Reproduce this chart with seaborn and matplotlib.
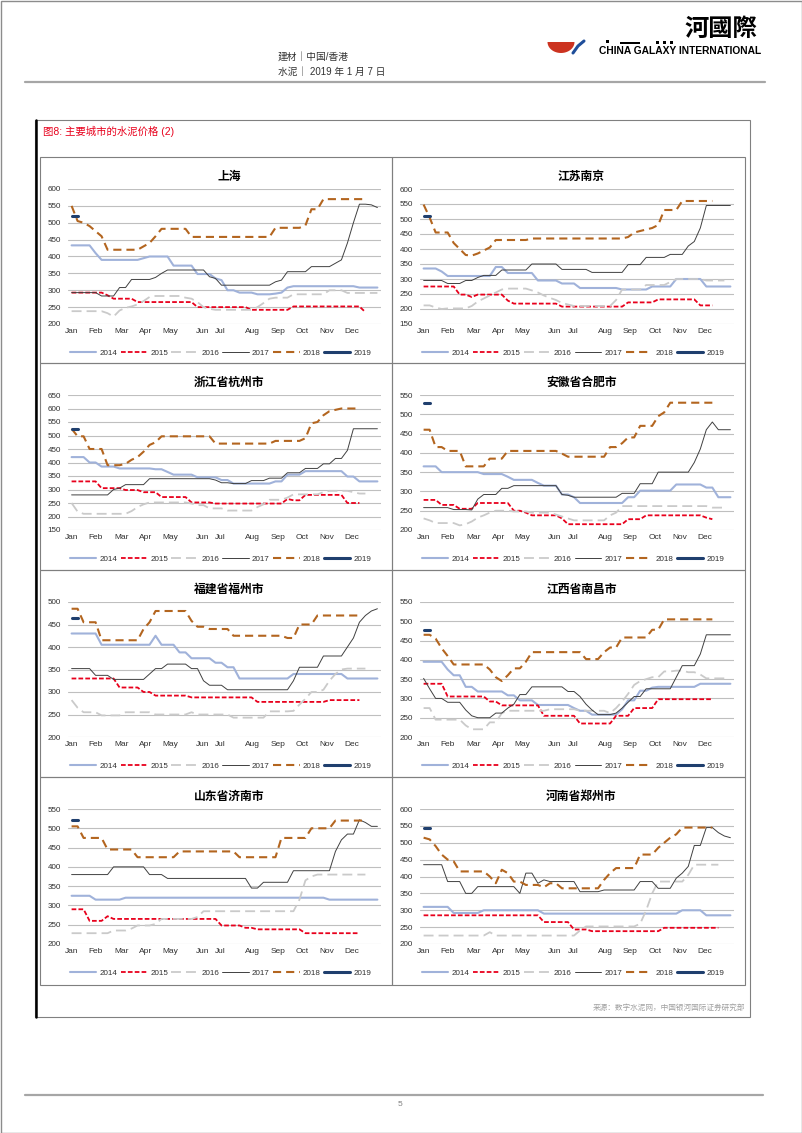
import numpy as np
import matplotlib
matplotlib.use('Agg')
import matplotlib.pyplot as plt
import seaborn as sns
from matplotlib.lines import Line2D
from matplotlib.patches import Rectangle, Polygon

# ---------------- data (weekly prices) ----------------
years = ['2014', '2015', '2016', '2017', '2018', '2019']
months = ['Jan', 'Feb', 'Mar', 'Apr', 'May', 'Jun', 'Jul', 'Aug', 'Sep', 'Oct', 'Nov', 'Dec']
month_pos = [0, 4, 8.3, 12.4, 16.4, 21.8, 24.8, 30.2, 34.4, 38.5, 42.6, 46.8]
cities = ['上海', '江苏南京', '浙江省杭州市', '安徽省合肥市',
          '福建省福州市', '江西省南昌市', '山东省济南市', '河南省郑州市']
y_low = [200, 150, 150, 200, 200, 200, 200, 200]
y_high = [600, 600, 650, 550, 500, 550, 550, 600]

sh_2014 = [433,433,433,433,410,390,390,390,390,390,390,390,395,400,400,400,400,373,373,373,373,348,348,348,335,330,300,300,293,293,293,288,288,288,290,293,308,312,312,312,312,312,312,312,312,312,312,312,308,308,308,308]
sh_2015 = [293,293,293,293,293,293,285,275,275,275,275,265,265,265,265,265,265,265,265,265,265,250,250,250,250,250,250,250,250,250,242,242,242,242,242,242,242,252,252,252,252,252,252,252,252,252,252,252,252,235]
sh_2016 = [238,238,238,238,238,238,232,222,240,248,252,258,268,280,283,283,283,283,283,278,275,265,250,245,242,242,242,242,242,242,242,250,262,275,278,278,278,288,288,288,288,288,288,300,300,300,292,292,292,292,292,292]
sh_2017 = [293,293,293,293,293,283,283,283,308,308,332,332,332,332,338,350,360,360,360,360,360,360,360,340,335,315,315,315,315,315,315,315,315,315,325,330,355,355,355,355,370,370,370,370,380,390,440,500,555,555,553,545]
sh_2018 = [550,505,500,490,475,460,420,420,420,420,420,420,430,440,460,482,482,482,482,482,458,458,458,458,458,458,458,458,458,458,458,458,458,458,485,485,485,485,485,492,540,540,570,570,570,570,570,570,570,570]
sh_2019 = [520,520]

nj_2014 = [335,335,335,325,310,310,310,310,310,310,310,310,340,340,320,320,320,320,320,295,295,295,295,285,285,285,270,270,270,270,270,270,270,265,265,265,265,265,275,275,275,275,300,300,300,300,300,275,275,275,275,275]
nj_2015 = [275,275,275,275,275,275,248,248,240,248,248,248,248,248,228,218,218,218,218,218,218,218,218,208,208,208,208,208,208,208,208,208,208,208,222,222,222,222,222,232,232,232,232,232,232,232,212,212,212]
nj_2016 = [212,212,205,200,202,202,202,202,210,225,235,245,255,265,268,268,268,268,262,255,245,237,230,220,215,210,210,210,210,210,210,210,230,265,265,265,265,280,280,280,280,290,300,300,300,300,300,295,295,295,295]
nj_2017 = [295,295,295,295,285,285,285,295,295,305,312,312,312,330,330,330,330,330,350,350,350,350,350,332,332,332,332,332,322,322,322,322,322,322,348,348,348,372,372,372,372,382,382,382,410,425,470,545,545,545,545,545]
nj_2018 = [548,505,455,455,455,420,400,380,378,385,395,405,430,430,430,430,430,430,435,435,435,435,435,435,435,435,435,435,435,435,435,435,435,435,440,455,460,465,470,480,530,530,530,560,560,560,560,560,560]
nj_2019 = [510,510]

hz_2014 = [420,420,420,400,400,385,385,385,378,378,378,378,378,378,375,375,365,355,355,355,355,345,345,345,345,335,335,322,322,322,322,322,322,322,330,330,355,355,355,368,368,368,368,368,368,368,348,348,330,330,330,330]
hz_2015 = [330,330,330,330,330,305,305,305,305,298,298,298,290,290,290,272,272,272,272,272,252,252,252,252,248,248,248,248,248,248,248,248,248,248,248,248,265,260,260,280,280,280,280,280,280,280,250,250,250]
hz_2016 = [250,218,210,210,210,210,210,210,210,210,220,235,245,252,252,252,252,252,252,252,248,242,242,230,230,230,222,222,222,222,222,235,245,262,262,262,270,282,282,282,282,282,290,295,295,295,295,290,285,285]
hz_2017 = [280,280,280,280,280,280,280,300,305,318,318,318,318,340,340,340,340,340,340,340,340,340,340,340,335,325,325,322,322,322,333,333,333,342,342,342,362,362,362,378,378,378,395,395,415,415,445,525,525,525,525,525]
hz_2018 = [525,497,497,450,450,450,390,390,390,395,410,420,440,465,475,497,497,497,497,497,497,497,497,497,470,470,470,470,470,470,470,470,470,470,480,480,480,480,480,490,545,550,575,590,595,600,600,600,600]
hz_2019 = [525,525]

hf_2014 = [365,365,365,350,350,350,350,350,350,350,345,345,345,345,338,330,330,330,330,322,315,315,315,292,292,285,270,270,270,270,270,270,270,270,285,285,302,302,302,302,302,302,318,318,318,318,318,310,310,285,285,285]
hf_2015 = [278,278,278,265,265,265,255,255,255,270,270,270,270,270,270,250,250,245,238,238,238,238,238,230,215,215,215,215,215,215,215,215,215,215,228,228,228,238,238,238,238,238,238,238,238,238,238,232,228]
hf_2016 = [230,225,218,218,218,218,212,215,222,232,238,245,250,250,250,248,248,248,245,245,245,245,240,235,230,225,225,225,225,225,225,238,245,262,262,262,262,262,262,262,262,262,262,262,262,262,262,262,258,258,258]
hf_2017 = [258,258,258,258,258,253,253,253,252,280,292,292,292,308,308,315,315,315,315,315,315,315,315,292,290,285,285,285,285,285,285,285,285,295,295,295,320,320,320,350,350,350,350,350,350,375,410,460,480,460,460,460]
hf_2018 = [460,460,415,415,405,405,405,365,365,365,365,385,385,385,405,405,405,405,405,405,405,405,405,398,390,390,390,390,390,390,390,415,415,425,440,440,470,470,470,495,505,530,530,530,530,530,530,530,530]
hf_2019 = [530,530]

fz_2014 = [430,430,430,430,430,405,405,405,405,405,405,405,405,405,425,405,405,405,388,388,375,375,375,375,365,365,355,355,330,330,330,330,330,330,330,330,330,340,340,340,340,340,340,340,340,340,330,330,330,330,330,330]
fz_2015 = [330,330,330,330,330,330,330,330,310,310,310,310,300,300,292,292,292,292,292,292,288,288,288,288,288,288,288,288,288,288,288,278,278,278,278,278,278,278,278,278,278,278,278,282,282,282,282,282,282]
fz_2016 = [282,265,255,255,255,248,248,248,248,255,255,255,255,255,250,250,250,250,250,250,255,250,250,250,250,250,250,243,243,243,243,243,243,257,257,257,257,258,272,285,300,300,305,325,340,350,352,352,352,352]
fz_2017 = [352,352,352,352,337,337,337,328,328,328,328,328,328,340,352,352,362,362,362,362,352,352,325,315,315,315,305,305,305,305,305,305,305,305,305,305,305,325,355,355,355,355,380,380,380,380,400,420,455,470,480,485]
fz_2018 = [485,485,455,455,455,415,415,415,415,415,415,415,440,455,480,480,480,480,480,480,458,445,445,440,440,440,440,425,425,425,425,425,425,425,425,425,420,420,450,450,450,470,470,470,470,470,470,470,470]
fz_2019 = [465,465]

nc_2014 = [395,395,395,395,375,360,360,330,330,318,318,318,318,318,308,308,295,295,295,283,283,283,283,283,283,275,268,268,258,258,258,258,258,272,295,295,320,320,328,330,330,330,330,330,330,330,338,338,338,338,338,338]
nc_2015 = [338,338,338,338,305,305,305,305,305,305,305,292,292,282,282,282,282,282,282,282,255,255,255,255,255,255,235,235,235,235,235,235,255,255,255,275,275,275,275,298,298,298,298,298,298,298,298,298,298]
nc_2016 = [275,275,245,245,245,245,245,230,220,220,220,238,238,262,268,268,268,268,268,268,268,272,272,272,272,272,268,268,268,268,268,262,275,292,312,335,345,350,355,355,370,370,372,372,368,368,362,352,352,352,352]
nc_2017 = [352,325,300,300,290,290,290,270,255,250,250,250,262,262,275,285,310,310,330,330,330,330,330,330,318,318,305,285,270,258,258,258,262,275,290,305,305,325,325,325,325,325,355,385,385,385,415,465,465,465,465,465]
nc_2018 = [465,465,455,430,410,388,388,388,388,388,388,375,355,345,360,378,378,395,420,420,420,420,420,420,420,420,420,402,402,402,420,432,432,458,458,458,458,458,478,478,505,505,505,505,505,505,505,505,505]
nc_2019 = [478,478]

jn_2014 = [325,325,325,325,315,315,315,315,315,320,320,320,320,320,320,320,320,320,320,320,320,320,320,320,320,320,320,320,320,320,320,320,320,320,320,320,320,320,320,320,320,320,320,315,315,315,315,315,315,315,315,315]
jn_2015 = [290,290,290,260,260,260,272,265,265,265,265,265,265,265,265,265,265,265,265,265,265,265,265,265,265,248,248,248,248,242,242,238,238,238,238,238,238,238,238,228,228,228,228,228,228,228,228,228,228]
jn_2016 = [228,228,228,228,228,228,228,235,235,235,240,248,248,248,252,265,265,265,265,265,265,270,285,285,285,285,285,285,285,285,285,285,285,285,285,285,285,285,315,365,375,380,380,380,380,380,380,380,380,380]
jn_2017 = [380,380,380,380,380,380,380,400,400,400,400,400,400,380,380,380,370,370,370,370,370,370,370,370,370,370,370,370,370,370,345,345,360,360,360,360,360,390,390,390,390,390,390,390,440,470,485,485,522,515,505,505]
jn_2018 = [505,505,475,475,475,475,445,445,445,445,445,425,425,425,425,425,425,425,440,440,440,440,440,440,440,440,440,440,425,425,425,425,425,425,425,475,475,475,475,475,500,500,500,500,520,520,520,520,520,520]
jn_2019 = [522,522]

zz_2014 = [310,310,310,310,310,292,292,292,292,292,300,300,300,300,300,300,300,300,300,300,290,290,290,290,290,290,290,290,290,290,290,290,290,290,290,290,290,290,290,290,290,290,290,300,300,300,300,285,285,285,285,285]
zz_2015 = [285,285,285,285,285,285,285,285,285,285,285,285,285,285,285,285,285,285,285,285,265,265,265,265,265,243,243,243,238,238,238,238,238,238,238,238,238,238,238,238,248,248,248,248,248,248,248,248,248,248]
zz_2016 = [225,225,225,225,225,225,225,225,225,225,225,235,225,225,225,225,225,225,225,225,225,225,225,225,225,225,240,252,252,252,252,252,252,252,252,252,260,300,350,385,385,385,385,385,405,435,435,435,435,435]
zz_2017 = [435,435,435,435,385,385,385,350,350,370,370,370,370,370,370,370,350,410,410,380,390,385,385,385,385,385,355,355,355,355,360,360,360,360,360,360,385,385,385,365,365,365,395,410,430,492,492,545,545,530,520,515]
zz_2018 = [515,510,490,465,450,445,415,415,415,415,415,400,380,420,410,385,385,375,375,375,368,380,380,365,365,365,365,365,365,365,390,410,425,425,425,425,465,465,465,485,500,515,525,545,545,545,545,545,545]
zz_2019 = [545,545]

city_series = [
    [sh_2014, sh_2015, sh_2016, sh_2017, sh_2018, sh_2019],
    [nj_2014, nj_2015, nj_2016, nj_2017, nj_2018, nj_2019],
    [hz_2014, hz_2015, hz_2016, hz_2017, hz_2018, hz_2019],
    [hf_2014, hf_2015, hf_2016, hf_2017, hf_2018, hf_2019],
    [fz_2014, fz_2015, fz_2016, fz_2017, fz_2018, fz_2019],
    [nc_2014, nc_2015, nc_2016, nc_2017, nc_2018, nc_2019],
    [jn_2014, jn_2015, jn_2016, jn_2017, jn_2018, jn_2019],
    [zz_2014, zz_2015, zz_2016, zz_2017, zz_2018, zz_2019],
]

# ---------------- styling ----------------
sns.set_style('white')
plt.rcParams['font.family'] = ['Liberation Sans', 'Noto Sans CJK SC', 'DejaVu Sans']
plt.rcParams['axes.unicode_minus'] = False

styles = {
    '2014': dict(color='#A0B2DA', linewidth=1.5, linestyle='-'),
    '2015': dict(color='#E8001C', linewidth=1.3, linestyle=(0, (2.6, 1.2))),
    '2016': dict(color='#CACACA', linewidth=1.3, linestyle=(0, (5.5, 2.8))),
    '2017': dict(color='#404040', linewidth=0.7, linestyle='-'),
    '2018': dict(color='#B3651F', linewidth=1.5, linestyle=(0, (3.9, 2.4))),
    '2019': dict(color='#1F3F6E', linewidth=2.2, linestyle='-'),
}

W, H = 802, 1133
fig = plt.figure(figsize=(W / 100, H / 100), dpi=100)
fig.patch.set_facecolor('white')


def fx(px):
    return px / W


def fy(py):
    return 1 - py / H


def add_rect(x0, y0, x1, y1, **kw):
    fig.patches.append(Rectangle((fx(x0), fy(y1)), fx(x1) - fx(x0), fy(y0) - fy(y1),
                                 transform=fig.transFigure, fill=False, **kw))


def add_hline(x0, x1, y, **kw):
    fig.lines.append(Line2D([fx(x0), fx(x1)], [fy(y), fy(y)], transform=fig.transFigure, **kw))


# page border
add_rect(0.5, 0.5, 801.5, 1132.5, edgecolor='#8C8C8C', linewidth=1.0)

# header
fig.text(fx(278), fy(57), '建材｜中国/香港', fontsize=7, color='#333333', va='center', ha='left')
fig.text(fx(278), fy(72), '水泥｜ 2019 年 1 月 7 日', fontsize=7, color='#333333', va='center', ha='left')
add_hline(25, 765, 82, color='#A6A6A6', linewidth=1.6)

# logo (decorative)
ang = np.linspace(np.pi, 2 * np.pi, 30)
logo_pts = [(fx(561 + 13.5 * np.cos(a)), fy(42 - 11 * np.sin(a))) for a in ang]
fig.patches.append(Polygon(logo_pts, closed=True, transform=fig.transFigure,
                           facecolor='#CC3320', edgecolor='none'))
fig.lines.append(Line2D([fx(573), fx(578), fx(584)], [fy(53), fy(46), fy(41)],
                        transform=fig.transFigure, color='#1F4E9A', linewidth=2.2))
for (a, b, t, h) in [(606, 609, 40, 3), (620, 640, 41.5, 2), (656, 659, 41, 2.5),
                     (663, 666, 41, 2.5), (670, 673, 41, 2.5)]:
    fig.patches.append(Rectangle((fx(a), fy(t + h)), fx(b) - fx(a), h / H, transform=fig.transFigure,
                                 facecolor='black', edgecolor='none'))
fig.text(fx(721), fy(29), '河國際', fontsize=17.5, fontweight='bold', ha='center', va='center',
         family=['Noto Sans CJK TC', 'Noto Sans CJK SC'], color='black')
fig.text(fx(761), fy(51), 'CHINA GALAXY INTERNATIONAL', fontsize=7.4, fontweight='bold',
         ha='right', va='center', color='black')

# outer figure box
add_rect(35, 120, 750, 1017, edgecolor='#808080', linewidth=0.8)
fig.lines.append(Line2D([fx(36), fx(36)], [fy(120), fy(1017)], transform=fig.transFigure,
                        color='black', linewidth=1.8))
fig.text(fx(43), fy(131), '图8: 主要城市的水泥价格 (2)', fontsize=7.5, color='#E8001C',
         ha='left', va='center')
fig.text(fx(745), fy(1008), '来源：数字水泥网，中国银河国际证券研究部', fontsize=5.5,
         color='#A0A0A0', ha='right', va='center')

# footer
add_hline(25, 763, 1095, color='#A6A6A6', linewidth=1.6)
fig.text(fx(400), fy(1104), '5', fontsize=6, color='#808080', ha='center', va='center')

col_x = [(40, 392), (392, 745)]
row_y = [(157, 363), (363, 570), (570, 777), (777, 985)]

legend_handles = [Line2D([0], [0], **styles[yr]) for yr in years]

for i, city in enumerate(cities):
    r, c = divmod(i, 2)
    x0, x1 = col_x[c]
    y0, y1 = row_y[r]
    add_rect(x0, y0, x1, y1, edgecolor='#7F7F7F', linewidth=0.8)

    ax_left = x0 + 28
    ax_right = x1 - 11
    ax_top = y0 + 32
    ax_bot = y0 + 167
    ax = fig.add_axes([fx(ax_left), fy(ax_bot), fx(ax_right) - fx(ax_left), fy(ax_top) - fy(ax_bot)])
    ax.set_facecolor('none')

    for yr, vals in zip(years, city_series[i]):
        weeks = np.arange(len(vals))
        sns.lineplot(x=weeks, y=vals, ax=ax, legend=False, **styles[yr])

    lo, hi = y_low[i], y_high[i]
    ax.set_xlim(-0.6, 51.6)
    ax.set_ylim(lo, hi)
    ax.set_yticks(np.arange(lo, hi + 1, 50))
    ax.set_xticks(month_pos)
    ax.set_xticklabels(months)
    ax.set_xlabel('')
    ax.set_ylabel('')
    ax.grid(axis='y', color='#BFBFBF', linewidth=0.8)
    ax.grid(axis='x', visible=False)
    ax.set_axisbelow(True)
    for s in ax.spines.values():
        s.set_visible(False)
    ax.tick_params(axis='both', length=0, colors='#303030')
    ax.tick_params(axis='y', pad=5, labelsize=5.8)
    ax.tick_params(axis='x', pad=3, labelsize=6)

    ax.legend(legend_handles, years, loc='center', bbox_to_anchor=(-0.005, -0.215, 0.985, 0.0),
              mode='expand', ncol=6, frameon=False, fontsize=5.8, handlelength=3.3,
              handletextpad=0.4, borderaxespad=0, columnspacing=0.8, labelcolor='#303030')

    fig.text(fx((x0 + x1) / 2 + 13), fy(y0 + 19), city, fontsize=8.5, fontweight='bold',
             ha='center', va='center', family=['Noto Sans CJK SC'], color='black')

fig.savefig('out.png', dpi=100, facecolor='white')
